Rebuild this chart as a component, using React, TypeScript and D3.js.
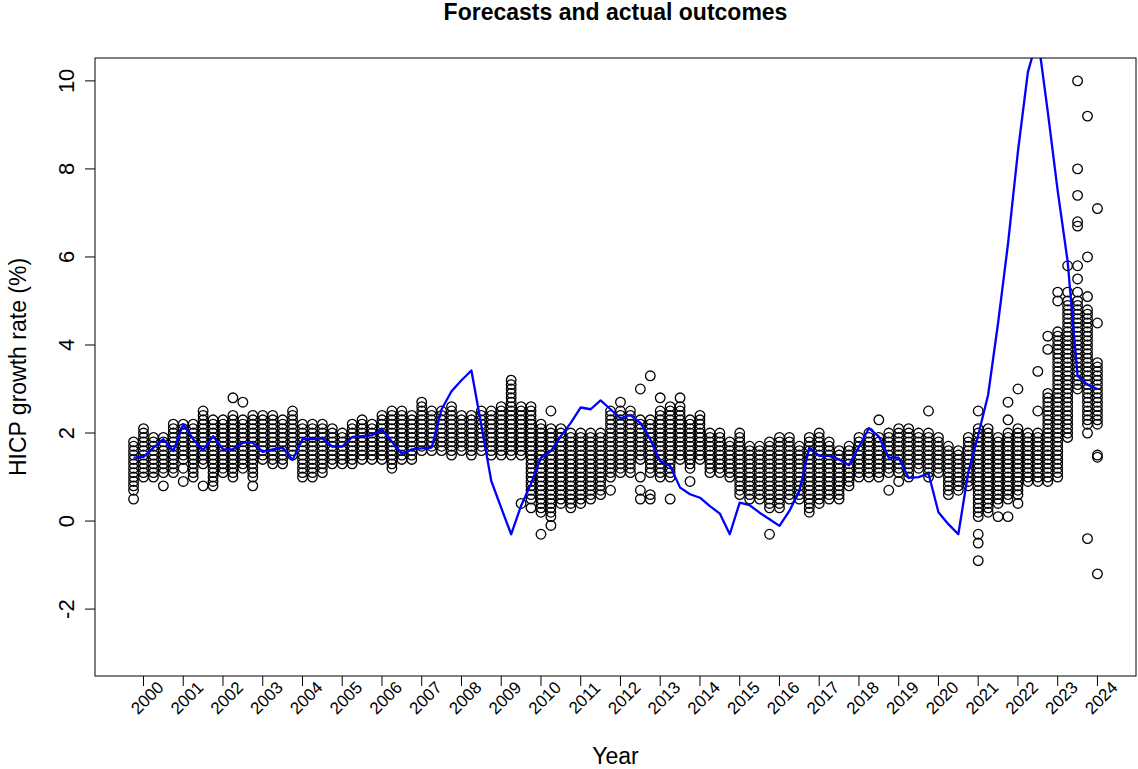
import React from "react";
import * as d3 from "d3";

// Survey quarters (one column of forecasts per quarter)
const quarters: string[] = [
  "1999Q4",
  "2000Q1", "2000Q2", "2000Q3", "2000Q4",
  "2001Q1", "2001Q2", "2001Q3", "2001Q4",
  "2002Q1", "2002Q2", "2002Q3", "2002Q4",
  "2003Q1", "2003Q2", "2003Q3", "2003Q4",
  "2004Q1", "2004Q2", "2004Q3", "2004Q4",
  "2005Q1", "2005Q2", "2005Q3", "2005Q4",
  "2006Q1", "2006Q2", "2006Q3", "2006Q4",
  "2007Q1", "2007Q2", "2007Q3", "2007Q4",
  "2008Q1", "2008Q2", "2008Q3", "2008Q4",
  "2009Q1", "2009Q2", "2009Q3", "2009Q4",
  "2010Q1", "2010Q2", "2010Q3", "2010Q4",
  "2011Q1", "2011Q2", "2011Q3", "2011Q4",
  "2012Q1", "2012Q2", "2012Q3", "2012Q4",
  "2013Q1", "2013Q2", "2013Q3", "2013Q4",
  "2014Q1", "2014Q2", "2014Q3", "2014Q4",
  "2015Q1", "2015Q2", "2015Q3", "2015Q4",
  "2016Q1", "2016Q2", "2016Q3", "2016Q4",
  "2017Q1", "2017Q2", "2017Q3", "2017Q4",
  "2018Q1", "2018Q2", "2018Q3", "2018Q4",
  "2019Q1", "2019Q2", "2019Q3", "2019Q4",
  "2020Q1", "2020Q2", "2020Q3", "2020Q4",
  "2021Q1", "2021Q2", "2021Q3", "2021Q4",
  "2022Q1", "2022Q2", "2022Q3", "2022Q4",
  "2023Q1", "2023Q2", "2023Q3", "2023Q4",
  "2024Q1",
];

// Realised HICP growth rate (%) per quarter
const actual: number[] = [
  1.44,
  1.46, 1.67, 1.86, 1.59,
  2.2, 1.86, 1.61, 1.93,
  1.63, 1.63, 1.78, 1.78,
  1.57, 1.63, 1.67, 1.39,
  1.86, 1.86, 1.88, 1.69,
  1.69, 1.91, 1.93, 1.95,
  2.08, 1.8, 1.53, 1.63,
  1.65, 1.67, 2.54, 2.95,
  3.2, 3.42, 2.17, 0.91,
  0.3, -0.3, 0.35, 0.85,
  1.44, 1.59, 1.93, 2.23,
  2.58, 2.54, 2.74, 2.54,
  2.33, 2.41, 2.23, 1.86,
  1.36, 1.25, 0.76, 0.61,
  0.53, 0.34, 0.17, -0.3,
  0.42, 0.36, 0.19, 0.04,
  -0.11, 0.23, 0.68, 1.67,
  1.48, 1.48, 1.4, 1.27,
  1.69, 2.11, 1.92, 1.44,
  1.44, 0.98, 1.0, 1.08,
  0.2, -0.07, -0.3, 1.11,
  1.95, 2.87, 4.5, 6.3,
  8.4, 10.2, 11.0, 9.3,
  7.5, 5.9, 3.3, 3.1,
  3.0,
];

// Individual forecasts (%) collected in each quarter
const forecasts: number[][] = [
  [0.5, 0.7, 0.8, 0.9, 1.0, 1.1, 1.2, 1.3, 1.4, 1.5, 1.6, 1.7, 1.8],
  [1.0, 1.1, 1.2, 1.3, 1.4, 1.5, 1.6, 1.7, 1.8, 1.9, 2.0, 2.1],
  [1.0, 1.1, 1.2, 1.3, 1.4, 1.5, 1.6, 1.7, 1.8, 1.9],
  [0.8, 1.1, 1.2, 1.3, 1.4, 1.5, 1.6, 1.7, 1.8, 1.9],
  [1.1, 1.2, 1.3, 1.4, 1.5, 1.6, 1.7, 1.8, 1.9, 2.0, 2.1, 2.2],
  [0.9, 1.2, 1.4, 1.5, 1.6, 1.7, 1.8, 1.9, 2.0, 2.1, 2.2],
  [1.0, 1.1, 1.2, 1.3, 1.4, 1.5, 1.6, 1.7, 1.8, 1.9, 2.0, 2.1, 2.2],
  [0.8, 1.3, 1.4, 1.5, 1.6, 1.7, 1.8, 1.9, 2.0, 2.1, 2.2, 2.3, 2.4, 2.5],
  [0.8, 0.9, 1.0, 1.1, 1.2, 1.3, 1.4, 1.5, 1.6, 1.7, 1.8, 1.9, 2.0, 2.1, 2.2, 2.3],
  [1.1, 1.2, 1.3, 1.4, 1.5, 1.6, 1.7, 1.8, 1.9, 2.0, 2.1, 2.2, 2.3],
  [1.0, 1.1, 1.2, 1.3, 1.4, 1.5, 1.6, 1.7, 1.8, 1.9, 2.0, 2.1, 2.2, 2.3, 2.4, 2.8],
  [1.2, 1.3, 1.4, 1.5, 1.6, 1.7, 1.8, 1.9, 2.0, 2.1, 2.2, 2.3, 2.7],
  [0.8, 1.0, 1.1, 1.2, 1.3, 1.4, 1.5, 1.6, 1.7, 1.8, 1.9, 2.0, 2.1, 2.2, 2.3, 2.4],
  [1.4, 1.5, 1.6, 1.7, 1.8, 1.9, 2.0, 2.1, 2.2, 2.3, 2.4],
  [1.3, 1.4, 1.5, 1.6, 1.7, 1.8, 1.9, 2.0, 2.1, 2.2, 2.3, 2.4],
  [1.3, 1.4, 1.5, 1.6, 1.7, 1.8, 1.9, 2.0, 2.1, 2.2, 2.3],
  [1.5, 1.6, 1.7, 1.8, 1.9, 2.0, 2.1, 2.2, 2.3, 2.4, 2.5],
  [1.0, 1.1, 1.2, 1.3, 1.4, 1.5, 1.6, 1.7, 1.8, 1.9, 2.0, 2.1, 2.2],
  [1.0, 1.1, 1.2, 1.3, 1.4, 1.5, 1.6, 1.7, 1.8, 1.9, 2.0, 2.1, 2.2],
  [1.1, 1.2, 1.3, 1.4, 1.5, 1.6, 1.7, 1.8, 1.9, 2.0, 2.1, 2.2],
  [1.3, 1.4, 1.5, 1.6, 1.7, 1.8, 1.9, 2.0, 2.1],
  [1.3, 1.4, 1.5, 1.6, 1.7, 1.8, 1.9, 2.0],
  [1.3, 1.4, 1.5, 1.6, 1.7, 1.8, 1.9, 2.0, 2.1, 2.2],
  [1.4, 1.5, 1.6, 1.7, 1.8, 1.9, 2.0, 2.1, 2.2, 2.3],
  [1.4, 1.5, 1.6, 1.7, 1.8, 1.9, 2.0, 2.1, 2.2],
  [1.4, 1.5, 1.6, 1.7, 1.8, 1.9, 2.0, 2.1, 2.2, 2.3, 2.4],
  [1.2, 1.3, 1.4, 1.5, 1.6, 1.7, 1.8, 1.9, 2.0, 2.1, 2.2, 2.3, 2.4, 2.5],
  [1.4, 1.5, 1.6, 1.7, 1.8, 1.9, 2.0, 2.1, 2.2, 2.3, 2.4, 2.5],
  [1.4, 1.5, 1.6, 1.7, 1.8, 1.9, 2.0, 2.1, 2.2, 2.3, 2.4],
  [1.6, 1.7, 1.8, 1.9, 2.0, 2.1, 2.2, 2.3, 2.4, 2.5, 2.6, 2.7],
  [1.6, 1.7, 1.8, 1.9, 2.0, 2.1, 2.2, 2.3, 2.4, 2.5],
  [1.6, 1.7, 1.8, 1.9, 2.0, 2.1, 2.2, 2.3, 2.4, 2.5],
  [1.5, 1.6, 1.7, 1.8, 1.9, 2.0, 2.1, 2.2, 2.3, 2.4, 2.5, 2.6],
  [1.6, 1.7, 1.8, 1.9, 2.0, 2.1, 2.2, 2.3, 2.4],
  [1.5, 1.6, 1.7, 1.8, 1.9, 2.0, 2.1, 2.2, 2.3, 2.4],
  [1.6, 1.7, 1.8, 1.9, 2.0, 2.1, 2.2, 2.3, 2.4, 2.5],
  [1.5, 1.6, 1.7, 1.8, 1.9, 2.0, 2.1, 2.2, 2.3, 2.4, 2.5],
  [1.5, 1.6, 1.7, 1.8, 1.9, 2.0, 2.1, 2.2, 2.3, 2.4, 2.5, 2.6],
  [1.5, 1.6, 1.7, 1.8, 1.9, 2.0, 2.1, 2.2, 2.3, 2.4, 2.5, 2.6, 2.7, 2.8, 2.9, 3.0, 3.1, 3.2],
  [0.4, 1.5, 1.6, 1.7, 1.8, 1.9, 2.0, 2.1, 2.2, 2.3, 2.4, 2.5, 2.6],
  [0.3, 0.5, 0.6, 0.7, 0.8, 0.9, 1.0, 1.1, 1.2, 1.3, 1.4, 1.5, 1.6, 1.7, 1.8, 1.9, 2.0, 2.1, 2.2, 2.3, 2.4, 2.5, 2.6],
  [-0.3, 0.2, 0.3, 0.4, 0.5, 0.6, 0.7, 0.8, 0.9, 1.0, 1.1, 1.2, 1.3, 1.4, 1.5, 1.6, 1.7, 1.8, 1.9, 2.0, 2.1, 2.2],
  [-0.1, 0.1, 0.2, 0.3, 0.4, 0.5, 0.6, 0.7, 0.8, 0.9, 1.0, 1.1, 1.2, 1.3, 1.4, 1.5, 1.6, 1.7, 1.8, 1.9, 2.0, 2.1, 2.5],
  [0.4, 0.5, 0.6, 0.7, 0.8, 0.9, 1.0, 1.1, 1.2, 1.3, 1.4, 1.5, 1.6, 1.7, 1.8, 1.9, 2.0, 2.1],
  [0.3, 0.4, 0.5, 0.6, 0.7, 0.8, 0.9, 1.0, 1.1, 1.2, 1.3, 1.4, 1.5, 1.6, 1.7, 1.8, 1.9, 2.0],
  [0.4, 0.5, 0.6, 0.7, 0.8, 0.9, 1.0, 1.1, 1.2, 1.3, 1.4, 1.5, 1.6, 1.7, 1.8, 1.9, 2.0],
  [0.5, 0.6, 0.7, 0.8, 0.9, 1.0, 1.1, 1.2, 1.3, 1.4, 1.5, 1.6, 1.7, 1.8, 1.9, 2.0],
  [0.6, 0.7, 0.8, 0.9, 1.0, 1.1, 1.2, 1.3, 1.4, 1.5, 1.6, 1.7, 1.8, 1.9, 2.0],
  [0.7, 1.0, 1.1, 1.2, 1.3, 1.4, 1.5, 1.6, 1.7, 1.8, 1.9, 2.0, 2.1, 2.2, 2.3, 2.4, 2.5],
  [1.1, 1.2, 1.3, 1.4, 1.5, 1.6, 1.7, 1.8, 1.9, 2.0, 2.1, 2.2, 2.3, 2.4, 2.5, 2.7],
  [1.1, 1.2, 1.3, 1.4, 1.5, 1.6, 1.7, 1.8, 1.9, 2.0, 2.1, 2.2, 2.3, 2.4, 2.5],
  [0.5, 0.7, 1.0, 1.4, 1.5, 1.6, 1.7, 1.8, 1.9, 2.0, 2.1, 2.2, 2.3, 3.0],
  [0.5, 0.6, 1.1, 1.2, 1.3, 1.4, 1.5, 1.6, 1.7, 1.8, 1.9, 2.0, 2.1, 2.2, 2.3, 3.3],
  [1.0, 1.1, 1.2, 1.3, 1.4, 1.5, 1.6, 1.7, 1.8, 1.9, 2.0, 2.1, 2.2, 2.3, 2.4, 2.5, 2.8],
  [0.5, 1.0, 1.1, 1.2, 1.3, 1.4, 1.5, 1.6, 1.7, 1.8, 1.9, 2.0, 2.1, 2.2, 2.3, 2.4, 2.5, 2.6],
  [1.4, 1.5, 1.6, 1.7, 1.8, 1.9, 2.0, 2.1, 2.2, 2.3, 2.4, 2.5, 2.6, 2.8],
  [0.9, 1.2, 1.3, 1.4, 1.5, 1.6, 1.7, 1.8, 1.9, 2.0, 2.1, 2.2, 2.3],
  [1.4, 1.5, 1.6, 1.7, 1.8, 1.9, 2.0, 2.1, 2.2, 2.3, 2.4],
  [1.1, 1.2, 1.3, 1.4, 1.5, 1.6, 1.7, 1.8, 1.9, 2.0],
  [1.1, 1.2, 1.3, 1.4, 1.5, 1.6, 1.7, 1.8, 1.9, 2.0],
  [1.0, 1.1, 1.2, 1.3, 1.4, 1.5, 1.6, 1.7, 1.8],
  [0.6, 0.7, 0.8, 0.9, 1.0, 1.1, 1.2, 1.3, 1.4, 1.5, 1.6, 1.7, 1.8, 1.9, 2.0],
  [0.5, 0.6, 0.7, 0.8, 0.9, 1.0, 1.1, 1.2, 1.3, 1.4, 1.5, 1.6, 1.7],
  [0.5, 0.6, 0.7, 0.8, 0.9, 1.0, 1.1, 1.2, 1.3, 1.4, 1.5, 1.6, 1.7],
  [-0.3, 0.3, 0.4, 0.5, 0.6, 0.7, 0.8, 0.9, 1.0, 1.1, 1.2, 1.3, 1.4, 1.5, 1.6, 1.7, 1.8],
  [0.3, 0.4, 0.5, 0.6, 0.7, 0.8, 0.9, 1.0, 1.1, 1.2, 1.3, 1.4, 1.5, 1.6, 1.7, 1.8, 1.9],
  [0.5, 0.6, 0.7, 0.8, 0.9, 1.0, 1.1, 1.2, 1.3, 1.4, 1.5, 1.6, 1.7, 1.8, 1.9],
  [0.5, 0.6, 0.7, 0.8, 0.9, 1.0, 1.1, 1.2, 1.3, 1.4, 1.5, 1.6, 1.7],
  [0.2, 0.3, 0.4, 0.5, 0.6, 0.7, 0.8, 0.9, 1.0, 1.1, 1.2, 1.3, 1.4, 1.5, 1.6, 1.7, 1.8, 1.9],
  [0.4, 0.5, 0.6, 0.7, 0.8, 0.9, 1.0, 1.1, 1.2, 1.3, 1.4, 1.5, 1.6, 1.7, 1.8, 1.9, 2.0],
  [0.5, 0.6, 0.7, 0.8, 0.9, 1.0, 1.1, 1.2, 1.3, 1.4, 1.5, 1.6, 1.7, 1.8],
  [0.5, 0.6, 0.7, 0.8, 0.9, 1.0, 1.1, 1.2, 1.3, 1.4, 1.5, 1.6],
  [0.8, 0.9, 1.0, 1.1, 1.2, 1.3, 1.4, 1.5, 1.6, 1.7],
  [1.0, 1.1, 1.2, 1.3, 1.4, 1.5, 1.6, 1.7, 1.8, 1.9],
  [1.0, 1.1, 1.2, 1.3, 1.4, 1.5, 1.6, 1.7, 1.8, 1.9, 2.0],
  [1.0, 1.1, 1.2, 1.3, 1.4, 1.5, 1.6, 1.7, 1.8, 1.9, 2.3],
  [0.7, 1.1, 1.2, 1.3, 1.4, 1.5, 1.6, 1.7, 1.8, 1.9, 2.0],
  [0.9, 1.1, 1.2, 1.3, 1.4, 1.5, 1.6, 1.7, 1.8, 1.9, 2.0, 2.1],
  [1.0, 1.1, 1.2, 1.3, 1.4, 1.5, 1.6, 1.7, 1.8, 1.9, 2.0, 2.1],
  [1.2, 1.3, 1.4, 1.5, 1.6, 1.7, 1.8, 1.9, 2.0],
  [1.0, 1.1, 1.2, 1.3, 1.4, 1.5, 1.6, 1.7, 1.8, 1.9, 2.0, 2.5],
  [1.1, 1.2, 1.3, 1.4, 1.5, 1.6, 1.7, 1.8, 1.9],
  [0.6, 0.7, 0.8, 0.9, 1.0, 1.1, 1.2, 1.3, 1.4, 1.5, 1.6, 1.7],
  [0.7, 0.8, 0.9, 1.0, 1.1, 1.2, 1.3, 1.4, 1.5, 1.6],
  [0.8, 0.9, 1.0, 1.1, 1.2, 1.3, 1.4, 1.5, 1.6, 1.7, 1.8, 1.9],
  [-0.9, -0.5, -0.3, 0.1, 0.2, 0.3, 0.4, 0.5, 0.6, 0.7, 0.8, 0.9, 1.0, 1.1, 1.2, 1.3, 1.4, 1.5, 1.6, 1.7, 1.8, 1.9, 2.0, 2.1, 2.5],
  [0.2, 0.3, 0.4, 0.5, 0.6, 0.7, 0.8, 0.9, 1.0, 1.1, 1.2, 1.3, 1.4, 1.5, 1.6, 1.7, 1.8, 1.9, 2.0, 2.1],
  [0.1, 0.4, 0.5, 0.6, 0.7, 0.8, 0.9, 1.0, 1.1, 1.2, 1.3, 1.4, 1.5, 1.6, 1.7, 1.8, 1.9],
  [0.1, 0.5, 0.6, 0.7, 0.8, 0.9, 1.0, 1.1, 1.2, 1.3, 1.4, 1.5, 1.6, 1.7, 1.8, 1.9, 2.0, 2.3, 2.7],
  [0.4, 0.6, 0.7, 0.8, 0.9, 1.0, 1.1, 1.2, 1.3, 1.4, 1.5, 1.6, 1.7, 1.8, 1.9, 2.0, 2.1, 3.0],
  [0.9, 1.0, 1.1, 1.2, 1.3, 1.4, 1.5, 1.6, 1.7, 1.8, 1.9, 2.0],
  [0.9, 1.0, 1.1, 1.2, 1.3, 1.4, 1.5, 1.6, 1.7, 1.8, 1.9, 2.0, 2.5, 3.4],
  [0.9, 1.0, 1.1, 1.2, 1.3, 1.4, 1.5, 1.6, 1.7, 1.8, 1.9, 2.0, 2.1, 2.2, 2.3, 2.4, 2.5, 2.6, 2.7, 2.8, 2.9, 3.9, 4.2],
  [1.0, 1.1, 1.2, 1.3, 1.4, 1.5, 1.6, 1.7, 1.8, 1.9, 2.0, 2.1, 2.2, 2.3, 2.4, 2.5, 2.6, 2.7, 2.8, 2.9, 3.0, 3.1, 3.2, 3.3, 3.4, 3.5, 3.6, 3.7, 3.8, 3.9, 4.0, 4.1, 4.2, 4.3, 5.0, 5.2],
  [1.9, 2.0, 2.1, 2.2, 2.3, 2.4, 2.5, 2.6, 2.7, 2.8, 2.9, 3.0, 3.1, 3.2, 3.3, 3.4, 3.5, 3.6, 3.7, 3.8, 3.9, 4.0, 4.1, 4.2, 4.3, 4.4, 4.5, 4.6, 4.7, 4.8, 4.9, 5.0, 5.2, 5.8],
  [3.0, 3.1, 3.2, 3.3, 3.4, 3.5, 3.6, 3.7, 3.8, 3.9, 4.0, 4.1, 4.2, 4.3, 4.4, 4.5, 4.6, 4.7, 4.8, 4.9, 5.0, 5.2, 5.5, 5.8, 6.7, 6.8, 7.4, 8.0, 10.0],
  [-0.4, 2.0, 2.2, 2.3, 2.4, 2.5, 2.6, 2.7, 2.8, 2.9, 3.0, 3.1, 3.2, 3.3, 3.4, 3.5, 3.6, 3.7, 3.8, 3.9, 4.0, 4.1, 4.2, 4.3, 4.4, 4.5, 4.6, 4.7, 4.8, 5.1, 6.0, 9.2],
  [-1.2, 1.45, 1.5, 2.2, 2.3, 2.4, 2.5, 2.6, 2.7, 2.8, 2.9, 3.0, 3.1, 3.2, 3.3, 3.4, 3.5, 3.6, 4.5, 7.1],
];

const yTicks: number[] = [-2, 0, 2, 4, 6, 8, 10];
const xTickYears: number[] = [
  2000, 2001, 2002, 2003, 2004, 2005, 2006, 2007, 2008, 2009, 2010, 2011, 2012,
  2013, 2014, 2015, 2016, 2017, 2018, 2019, 2020, 2021, 2022, 2023, 2024,
];

const WIDTH = 1138;
const HEIGHT = 769;
const PLOT = { left: 95, right: 1136, top: 58, bottom: 676 };
const FONT = "'Liberation Sans', Arial, Helvetica, sans-serif";

// "2000Q1" -> 2000.0, "1999Q4" -> 1999.75
const quarterToYear = (q: string): number => {
  const [yr, n] = q.split("Q");
  return Number(yr) + (Number(n) - 1) / 4;
};

export default function App() {
  const x = d3.scaleLinear().domain([1998.78, 2024.97]).range([PLOT.left, PLOT.right]);
  const y = d3.scaleLinear().domain([-3.52, 10.52]).range([PLOT.bottom, PLOT.top]);

  const points: { cx: number; cy: number; key: string }[] = [];
  forecasts.forEach((col, i) => {
    const t = quarterToYear(quarters[i]);
    col.forEach((v, j) => {
      points.push({ cx: x(t), cy: y(v), key: `${i}-${j}` });
    });
  });

  const linePath =
    d3
      .line<number>()
      .x((_, i) => x(quarterToYear(quarters[i])))
      .y((d) => y(d))(actual) ?? "";

  const plotCx = (PLOT.left + PLOT.right) / 2;
  const plotCy = (PLOT.top + PLOT.bottom) / 2;

  return (
    <svg
      width={WIDTH}
      height={HEIGHT}
      viewBox={`0 0 ${WIDTH} ${HEIGHT}`}
      style={{ position: "absolute", left: 0, top: 0, background: "#fff" }}
      fontFamily={FONT}
    >
      <rect x={0} y={0} width={WIDTH} height={HEIGHT} fill="#fff" />
      <defs>
        <clipPath id="plot-area">
          <rect
            x={PLOT.left}
            y={PLOT.top}
            width={PLOT.right - PLOT.left}
            height={PLOT.bottom - PLOT.top}
          />
        </clipPath>
      </defs>

      <g clipPath="url(#plot-area)">
        {points.map((p) => (
          <circle
            key={p.key}
            cx={p.cx}
            cy={p.cy}
            r={4.8}
            fill="none"
            stroke="#000"
            strokeWidth={1.3}
          />
        ))}
        <path d={linePath} fill="none" stroke="#0000ff" strokeWidth={2.3} strokeLinejoin="round" />
      </g>

      <rect
        x={PLOT.left}
        y={PLOT.top}
        width={PLOT.right - PLOT.left}
        height={PLOT.bottom - PLOT.top}
        fill="none"
        stroke="#000"
        strokeWidth={1}
      />

      {/* y axis */}
      {yTicks.map((t) => (
        <g key={`y${t}`}>
          <line x1={PLOT.left - 10} x2={PLOT.left} y1={y(t)} y2={y(t)} stroke="#000" />
          <text
            transform={`translate(74, ${y(t)}) rotate(-90)`}
            textAnchor="middle"
            fontSize={22}
            fill="#000"
          >
            {t}
          </text>
        </g>
      ))}

      {/* x axis */}
      {xTickYears.map((yr) => (
        <g key={`x${yr}`}>
          <line x1={x(yr)} x2={x(yr)} y1={PLOT.bottom} y2={PLOT.bottom + 10} stroke="#000" />
          <text
            transform={`translate(${x(yr) + 4}, 698) rotate(-45)`}
            textAnchor="middle"
            dominantBaseline="central"
            fontSize={17}
            fill="#000"
          >
            {yr}
          </text>
        </g>
      ))}

      <text x={plotCx} y={20} textAnchor="middle" fontSize={23} fontWeight="bold" fill="#000">
        Forecasts and actual outcomes
      </text>
      <text x={plotCx} y={764} textAnchor="middle" fontSize={23} fill="#000">
        Year
      </text>
      <text
        transform={`translate(26, ${plotCy}) rotate(-90)`}
        textAnchor="middle"
        fontSize={23}
        fill="#000"
      >
        HICP growth rate (%)
      </text>
    </svg>
  );
}
